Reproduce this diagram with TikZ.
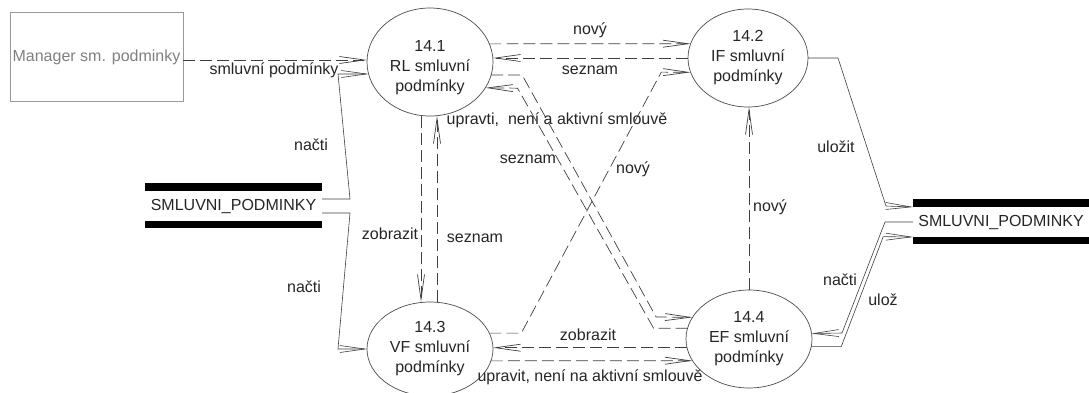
\documentclass[tikz,border=0pt]{standalone}
\usepackage{fontspec}
\setmainfont{Liberation Sans}
\usetikzlibrary{arrows.meta,shapes.geometric}

\begin{document}
\begin{tikzpicture}[x=1pt,y=-1pt,
  every node/.style={font=\fontsize{16}{20}\selectfont, text=black!85},
  proc/.style={ellipse, draw=black!70, line width=0.7pt, inner sep=0pt, outer sep=0pt, align=center},
  ptext/.style={align=center, inner sep=0pt},
  flow/.style={draw=black!75, line width=0.7pt, dash pattern=on 12pt off 5pt,
               -{Straight Barb[length=25pt,width=7pt]}},
  sflow/.style={draw=black!75, line width=0.6pt, -{Straight Barb[length=25pt,width=7pt]}},
  store/.style={inner sep=0pt, outer sep=0pt, minimum height=30pt},
  lbl/.style={inner sep=0pt}
]
\useasboundingbox (0,0) rectangle (1089,392);
\fill[white] (0,0) rectangle (1089,392);

% external entity
\node[draw=black!40, line width=0.7pt, text=black!50, minimum width=173pt,
      minimum height=89pt, inner sep=0pt] (m) at (96.5,57) {Manager sm. podminky};
\coordinate (mo) at ([yshift=-3pt]m.east);

% processes
\node[proc, minimum width=126pt, minimum height=108pt] (p1) at (430,62)  {};
\node[ptext] (t1) at (430,68) {14.1\\RL smluvní\\podmínky};
\node[proc, minimum width=120pt, minimum height=98pt]  (p2) at (748,58)  {14.2\\IF smluvní\\podmínky};
\node[proc, minimum width=126pt, minimum height=94pt]  (p3) at (430,349) {14.3\\VF smluvní\\podmínky};
\node[proc, minimum width=126pt, minimum height=98pt]  (p4) at (749,339) {14.4\\EF smluvní\\podmínky};

% data stores
\node[store, minimum width=177pt] (s1) at (233.5,206) {SMLUVNI\_PODMINKY};
\fill (s1.north west) rectangle ([yshift=8pt]s1.north east);
\fill (s1.south west) rectangle ([yshift=-7pt]s1.south east);
\node[store, minimum width=176pt] (s2) at (1001,222) {SMLUVNI\_PODMINKY};
\fill (s2.north west) rectangle ([yshift=8pt]s2.north east);
\fill (s2.south west) rectangle ([yshift=-7pt]s2.south east);

% flows
\draw[flow] (mo) -- (p1.west |- mo);
\draw[sflow] ([yshift=7pt]s1.east) -- ++(28,0) -- ++(-12,-125) -- (p1.191);
\draw[sflow] ([yshift=-7pt]s1.east) -- ++(28,0) -- ++(-12,136) -- (p3.west);

\draw[flow] (p1.17) -- (p2.166);
\draw[flow] (p2.west) -- (p1.east |- p2.west);

\draw[flow] (p1.-12) -- ++(31,0) -- ++(134,242) -- (p4.159);
\draw[flow] (p4.170) -- ++(-34,0) -- ++(-136,-240) -- (p1.-25);
\draw[flow] (p3.15) -- ++(32,0) -- ++(140,-261) -- (p2.194);

\draw[flow] ([xshift=-9pt]p1.south) -- ([xshift=-9pt]p3.north);
\draw[flow] ([xshift=7pt]p3.north) -- ([xshift=7pt]p1.south);

\draw[flow] (p4.188) -- (p3.east |- p4.188);
\draw[flow] (p3.-11) -- (p4.201);
\draw[flow] (p4.north) -- (p2.south -| p4.north);

\draw[sflow] (p2.east) -- ++(30,0) -- ++(48,148) -- (s2.north west);
\draw[sflow] (s2.west) -- ++(-28,0) -- ++(-43,111) -- (p4.5);
\draw[sflow] (p4.-7) -- ++(30,0) -- ++(42,-110) -- (s2.south west);

% flow labels
\node[lbl] (l1)  at (274,70)  {smluvní podmínky};
\node[lbl] (l2)  at (311,145) {načti};
\node[lbl] (l3)  at (304,287) {načti};
\node[lbl] (l4)  at (590,30)  {nový};
\node[lbl] (l5)  at (590,70)  {seznam};
\node[lbl] (l6)  at (557,120) {upravti,~ není a aktivní smlouvě};
\node[lbl] (l7)  at (528,159) {seznam};
\node[lbl] (l8)  at (633,169) {nový};
\node[lbl] (l9)  at (390,234) {zobrazit};
\node[lbl] (l10) at (475,238) {seznam};
\node[lbl] (l11) at (770,207) {nový};
\node[lbl] (l12) at (836,147) {uložit};
\node[lbl] (l13) at (588,335) {zobrazit};
\node[lbl] (l14) at (590,377) {upravit, není na aktivní smlouvě};
\node[lbl] (l15) at (840,280) {načti};
\node[lbl] (l16) at (883,300) {ulož};
\end{tikzpicture}
\end{document}
